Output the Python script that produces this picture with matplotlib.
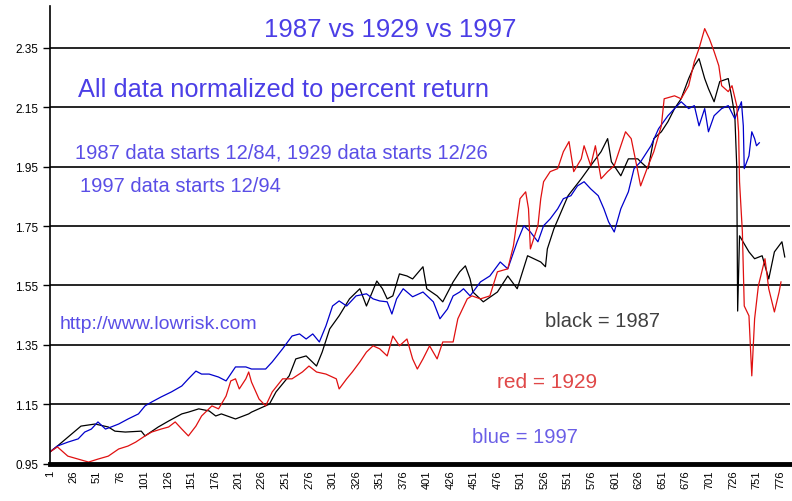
import matplotlib
matplotlib.use("Agg")
import matplotlib.pyplot as plt

plt.rcParams['font.family'] = ['Liberation Sans', 'DejaVu Sans']

# 1987 (black)
days_87 = [1, 9, 34, 49, 63, 70, 81, 98, 102, 116, 127, 141, 148, 159, 170, 177, 183, 198, 212,
           215, 234, 241, 255, 262, 273, 284, 290, 298, 308, 319, 330, 337, 348, 354, 359, 365,
           372, 380, 386, 397, 401, 412, 418, 429, 436, 442, 447, 450, 461, 476, 487, 497, 508,
           522, 527, 529, 536, 551, 565, 575, 586, 593, 597, 607, 615, 625, 628, 636, 642, 650,
           657, 664, 671, 679, 685, 690, 696, 700, 706, 712, 721, 725, 728, 730, 731, 733, 743,
           749, 757, 764, 770, 778, 781]
vals_87 = [0.990, 1.010, 1.077, 1.084, 1.074, 1.060, 1.057, 1.060, 1.044, 1.074, 1.094, 1.118,
           1.124, 1.135, 1.128, 1.111, 1.118, 1.101, 1.118, 1.124, 1.151, 1.192, 1.246, 1.303,
           1.313, 1.279, 1.326, 1.404, 1.448, 1.505, 1.539, 1.481, 1.565, 1.539, 1.505, 1.515,
           1.589, 1.582, 1.572, 1.613, 1.539, 1.515, 1.495, 1.562, 1.596, 1.616, 1.572, 1.528,
           1.495, 1.528, 1.582, 1.539, 1.650, 1.629, 1.613, 1.673, 1.741, 1.852, 1.909, 1.953,
           2.000, 2.044, 1.966, 1.919, 1.976, 1.976, 1.966, 1.943, 2.044, 2.067, 2.101, 2.145,
           2.178, 2.246, 2.289, 2.313, 2.246, 2.212, 2.168, 2.236, 2.246, 2.178, 2.121, 1.953,
           1.464, 1.717, 1.663, 1.640, 1.650, 1.572, 1.663, 1.697, 1.646]

# 1929 (red)
days_29 = [1, 9, 20, 31, 42, 52, 63, 74, 84, 92, 102, 109, 119, 127, 134, 141, 148, 156, 162,
           173, 180, 188, 193, 198, 202, 209, 212, 215, 223, 230, 237, 248, 258, 269, 276, 284,
           294, 305, 308, 316, 322, 330, 337, 344, 351, 359, 365, 372, 380, 386, 391, 397, 404,
           412, 418, 429, 434, 444, 449, 458, 468, 476, 487, 493, 500, 506, 509, 511, 519, 522,
           525, 532, 540, 546, 552, 557, 565, 568, 575, 580, 586, 593, 600, 607, 612, 618, 623,
           628, 636, 642, 650, 653, 664, 671, 679, 685, 690, 696, 701, 706, 711, 714, 721, 725,
           730, 732, 733, 736, 738, 743, 746, 749, 753, 760, 764, 770, 775, 777]
vals_29 = [0.990, 1.007, 0.976, 0.966, 0.956, 0.966, 0.976, 1.000, 1.010, 1.023, 1.044, 1.057,
           1.067, 1.074, 1.091, 1.067, 1.044, 1.077, 1.111, 1.145, 1.135, 1.178, 1.229, 1.236,
           1.202, 1.236, 1.259, 1.225, 1.168, 1.145, 1.192, 1.236, 1.236, 1.259, 1.279, 1.259,
           1.252, 1.236, 1.202, 1.236, 1.259, 1.293, 1.326, 1.347, 1.337, 1.313, 1.380, 1.347,
           1.370, 1.303, 1.269, 1.303, 1.347, 1.303, 1.360, 1.360, 1.438, 1.505, 1.515, 1.505,
           1.515, 1.596, 1.606, 1.683, 1.842, 1.865, 1.808, 1.673, 1.751, 1.842, 1.899, 1.933,
           1.943, 2.000, 2.034, 1.933, 1.976, 2.020, 1.953, 2.020, 1.909, 1.933, 1.953, 2.020,
           2.067, 2.044, 1.966, 1.885, 1.953, 2.000, 2.087, 2.178, 2.188, 2.178, 2.222, 2.303,
           2.347, 2.414, 2.380, 2.337, 2.289, 2.222, 2.202, 2.222, 2.155, 2.067, 1.899, 1.730,
           1.481, 1.448, 1.246, 1.438, 1.549, 1.640, 1.539, 1.461, 1.528, 1.562]

# 1997 (blue)
days_97 = [1, 9, 20, 31, 38, 45, 52, 60, 66, 74, 84, 95, 102, 109, 119, 130, 141, 148, 156,
           162, 170, 180, 188, 198, 209, 215, 230, 237, 248, 258, 266, 273, 280, 287, 294, 301,
           308, 316, 326, 337, 344, 351, 359, 364, 369, 376, 386, 397, 408, 415, 423, 429, 436,
           440, 447, 458, 468, 479, 487, 497, 504, 511, 519, 525, 532, 540, 546, 554, 561, 568,
           575, 583, 589, 594, 600, 607, 615, 621, 628, 639, 647, 657, 664, 671, 679, 685, 690,
           696, 700, 706, 714, 721, 728, 735, 737, 738, 743, 746, 749, 751, 754]
vals_97 = [0.990, 1.010, 1.023, 1.034, 1.057, 1.067, 1.091, 1.067, 1.074, 1.084, 1.101, 1.118,
           1.145, 1.158, 1.175, 1.192, 1.212, 1.236, 1.262, 1.252, 1.252, 1.242, 1.229, 1.276,
           1.276, 1.269, 1.269, 1.293, 1.337, 1.380, 1.387, 1.370, 1.387, 1.360, 1.414, 1.481,
           1.498, 1.481, 1.515, 1.522, 1.505, 1.498, 1.495, 1.454, 1.505, 1.539, 1.512, 1.528,
           1.495, 1.438, 1.471, 1.515, 1.528, 1.539, 1.515, 1.562, 1.582, 1.629, 1.606, 1.697,
           1.751, 1.730, 1.697, 1.751, 1.774, 1.808, 1.842, 1.852, 1.885, 1.899, 1.875, 1.852,
           1.808, 1.764, 1.730, 1.808, 1.865, 1.943, 1.966, 2.020, 2.077, 2.121, 2.145, 2.168,
           2.145, 2.155, 2.087, 2.145, 2.067, 2.121, 2.145, 2.155, 2.111, 2.168, 2.087, 1.943,
           1.986, 2.067, 2.044, 2.020, 2.030]

yticks = [0.95, 1.15, 1.35, 1.55, 1.75, 1.95, 2.15, 2.35]
xticks = list(range(1, 777, 25))

fig = plt.figure(figsize=(7.92, 5.02), dpi=100)
ax = fig.add_axes([0.063, 0.074, 0.935, 0.912])

ax.plot(days_87, vals_87, color='black', lw=0.9)
ax.plot(days_97, vals_97, color='#0000cc', lw=0.9)
ax.plot(days_29, vals_29, color='#e01010', lw=0.9)

ax.set_xlim(1, 787)
ax.set_ylim(0.95, 2.49)
ax.set_yticks(yticks)
ax.set_yticklabels(['%.2f' % v for v in yticks], fontsize=8.5)
ax.set_xticks(xticks)
ax.set_xticklabels([str(v) for v in xticks], rotation=90, fontsize=8)
ax.tick_params(axis='x', length=0, pad=4)
ax.tick_params(axis='y', direction='out', length=5, width=1)

for v in yticks[1:]:
    ax.axhline(v, color='black', lw=1.2, zorder=0)

ax.spines['top'].set_visible(False)
ax.spines['right'].set_visible(False)
ax.spines['bottom'].set_linewidth(3.5)
ax.spines['left'].set_linewidth(1.2)

purple = '#4b3ee6'
fig.text(390 / 792, 1 - 30 / 502, '1987 vs 1929 vs 1997', color=purple, fontsize=18.5,
         ha='center', va='center')
fig.text(78 / 792, 1 - 90 / 502, 'All data normalized to percent return', color=purple,
         fontsize=18.3, ha='left', va='center')
fig.text(75 / 792, 1 - 153 / 502, '1987 data starts 12/84, 1929 data starts 12/26',
         color='#5a4ee6', fontsize=14.5, ha='left', va='center')
fig.text(80 / 792, 1 - 186 / 502, '1997 data starts 12/94', color='#5a4ee6', fontsize=14.5,
         ha='left', va='center')
fig.text(60 / 792, 1 - 325 / 502, 'http://www.lowrisk.com', color='#5a4ee6', fontsize=14,
         ha='left', va='center')
fig.text(545 / 792, 1 - 322 / 502, 'black = 1987', color='#404040', fontsize=14.5,
         ha='left', va='center')
fig.text(497 / 792, 1 - 383 / 502, 'red = 1929', color='#e04848', fontsize=15,
         ha='left', va='center')
fig.text(472 / 792, 1 - 438 / 502, 'blue = 1997', color='#6a5ee6', fontsize=14.5,
         ha='left', va='center')

fig.savefig('out.png', dpi=100)
